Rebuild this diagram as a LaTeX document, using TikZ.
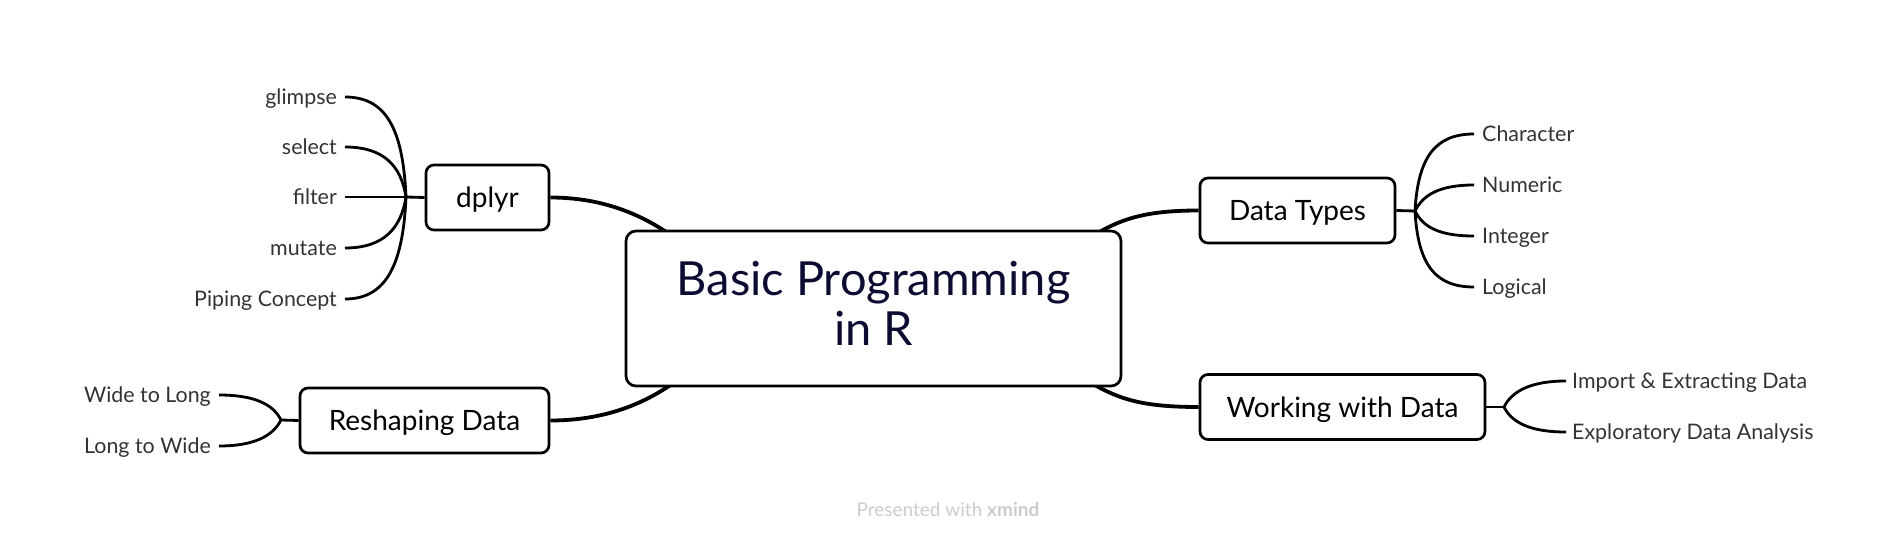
\documentclass[tikz,border=0pt]{standalone}
\usepackage{fontspec}
\setmainfont{Lato}
\definecolor{navy}{HTML}{0C0C33}
\definecolor{leafgray}{HTML}{333333}
\definecolor{footgray}{HTML}{CCCCCC}
\begin{document}
\begin{tikzpicture}[x=1pt,y=-1pt,
  central/.style={draw=black,line width=2.7pt,rounded corners=10pt,fill=white,minimum width=495pt,minimum height=155pt,inner sep=0pt},
  centrallabel/.style={align=center,text=navy,font=\fontsize{47}{50}\selectfont},
  branch/.style={draw=black,line width=2.7pt,rounded corners=8pt,fill=white,minimum height=65pt,inner sep=0pt,text height=20pt,text depth=0pt,font=\fontsize{28}{32}\selectfont},
  leaf/.style={inner xsep=8pt,inner ysep=0pt,text height=15.4pt,text depth=0pt,text=leafgray,font=\fontsize{21.4}{25}\selectfont},
  mainline/.style={line width=3.8pt},
  leafline/.style={line width=2.8pt}]
\useasboundingbox (0,0) rectangle (1899,541);
% branch nodes
\node[branch,minimum width=123pt] (dp) at (487.5,197.5) {dplyr};
\node[branch,minimum width=195pt] (dt) at (1297.5,210.5) {Data Types};
\node[branch,minimum width=285pt] (wd) at (1342.5,407) {Working with Data};
\node[branch,minimum width=249pt] (rd) at (424.5,420.5) {Reshaping Data};
% main connectors
\coordinate (c1) at (690,250);
\coordinate (c2) at (1070,250);
\coordinate (c3) at (1070,370);
\coordinate (c4) at (690,370);
\draw[mainline] (dp.east) .. controls +(60,0) and +(-35,-30) .. (c1);
\draw[mainline] (dt.west) .. controls +(-70,0) and +(40,-25) .. (c2);
\draw[mainline] (wd.west) .. controls +(-70,0) and +(40,25) .. (c3);
\draw[mainline] (rd.east) .. controls +(60,0) and +(-35,30) .. (c4);
\node[central] (root) at (873.5,308.5) {};
\node[centrallabel] (rootlabel) at (873.5,303.5) {Basic Programming\\in R};
% dplyr leaves
\coordinate (dpj) at (406,197);
\node[leaf,anchor=east] (l1) at (345,97) {glimpse};
\node[leaf,anchor=east] (l2) at (345,147) {select};
\node[leaf,anchor=east] (l3) at (345,197) {filter};
\node[leaf,anchor=east] (l4) at (345,248) {mutate};
\node[leaf,anchor=east] (l5) at (345,299) {Piping Concept};
\draw[leafline] (dp.west) -- (dpj);
\draw[leafline] (l1.east) .. controls +(40,0) and +(-3,-70) .. (dpj);
\draw[leafline] (l2.east) .. controls +(38,0) and +(-5,-32) .. (dpj);
\draw[leafline] (l3.east) -- (dpj);
\draw[leafline] (l4.east) .. controls +(38,0) and +(-5,32) .. (dpj);
\draw[leafline] (l5.east) .. controls +(40,0) and +(-3,70) .. (dpj);
% data types leaves
\coordinate (dtj) at (1415,211);
\node[leaf,anchor=west] (t1) at (1474,134) {Character};
\node[leaf,anchor=west] (t2) at (1474,185) {Numeric};
\node[leaf,anchor=west] (t3) at (1474,236) {Integer};
\node[leaf,anchor=west] (t4) at (1474,287) {Logical};
\draw[leafline] (dt.east) -- (dtj);
\draw[leafline] (t1.west) .. controls +(-38,0) and +(3,-55) .. (dtj);
\draw[leafline] (t2.west) .. controls +(-35,0) and +(8,-16) .. (dtj);
\draw[leafline] (t3.west) .. controls +(-35,0) and +(8,16) .. (dtj);
\draw[leafline] (t4.west) .. controls +(-38,0) and +(3,55) .. (dtj);
% working leaves
\coordinate (wdj) at (1504,407);
\node[leaf,anchor=west,inner xsep=6pt] (w1) at (1566,381) {Import \& Extracting Data};
\node[leaf,anchor=west,inner xsep=6pt] (w2) at (1566,432) {Exploratory Data Analysis};
\draw[leafline] (wd.east) -- (wdj);
\draw[leafline] (w1.west) .. controls +(-35,0) and +(8,-16) .. (wdj);
\draw[leafline] (w2.west) .. controls +(-35,0) and +(8,16) .. (wdj);
% reshaping leaves
\coordinate (rdj) at (281,420);
\node[leaf,anchor=east] (r1) at (219,395) {Wide to Long};
\node[leaf,anchor=east] (r2) at (219,446) {Long to Wide};
\draw[leafline] (rd.west) -- (rdj);
\draw[leafline] (r1.east) .. controls +(35,0) and +(-8,-16) .. (rdj);
\draw[leafline] (r2.east) .. controls +(35,0) and +(-8,16) .. (rdj);
% footer
\node[text=footgray,font=\fontsize{19}{22}\selectfont] (foot) at (948,510) {Presented with \textbf{xmind}};
\end{tikzpicture}
\end{document}
